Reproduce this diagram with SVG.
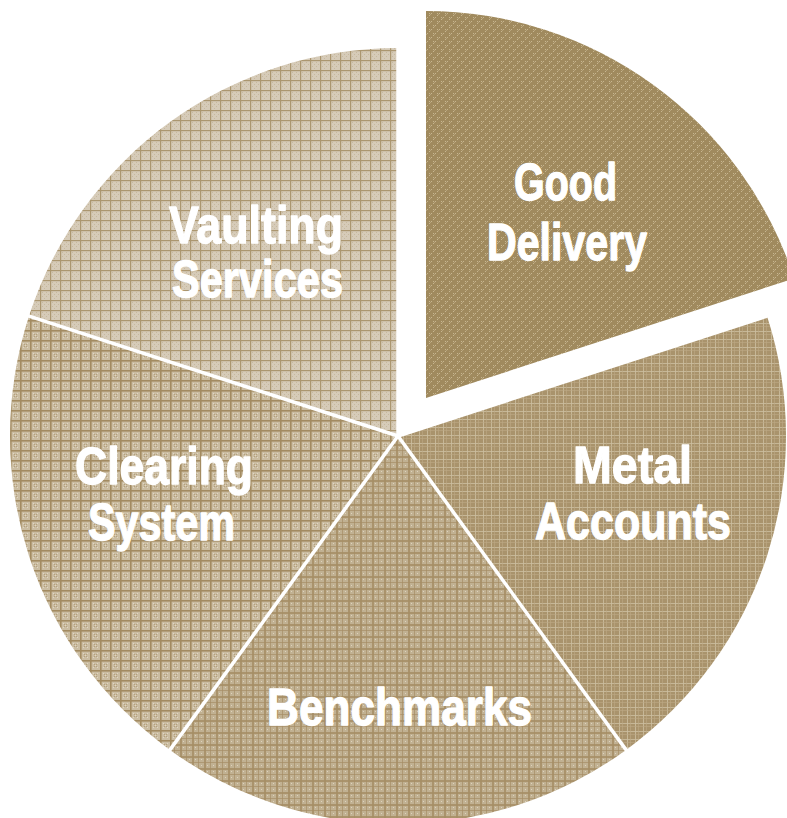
<svg xmlns="http://www.w3.org/2000/svg" width="787" height="818" viewBox="0 0 787 818">
<style>
.lbl{font-family:"Liberation Sans","Arial",sans-serif;font-weight:bold;font-size:52px;fill:#ffffff;stroke:#ffffff;stroke-width:1.3;stroke-linejoin:round;}
.sep{stroke:#ffffff;stroke-width:3.5;fill:none;}
</style>
<defs>
<pattern id="pVault" patternUnits="userSpaceOnUse" width="10" height="10">
<rect width="10" height="10" fill="#d6cbb8"/>
<rect x="2" y="2" width="1" height="1" fill="#c6b89e"/><rect x="4" y="4" width="1" height="1" fill="#c6b89e"/><rect x="6" y="6" width="1" height="1" fill="#c6b89e"/><rect x="6" y="2" width="1" height="1" fill="#c6b89e"/><rect x="2" y="6" width="1" height="1" fill="#c6b89e"/><rect x="8" y="4" width="1" height="1" fill="#c6b89e"/><rect x="4" y="8" width="1" height="1" fill="#c6b89e"/>
<rect x="0" y="0" width="10" height="1.2" fill="#ab966f"/>
<rect x="0" y="0" width="1.2" height="10" fill="#ab966f"/>
</pattern>
<pattern id="pClear" patternUnits="userSpaceOnUse" width="10" height="10">
<rect width="10" height="10" fill="#cbbda2"/>
<rect x="3" y="3" width="1" height="1" fill="#e0d6c4"/><rect x="5" y="5" width="1" height="1" fill="#e0d6c4"/><rect x="7" y="3" width="1" height="1" fill="#e0d6c4"/><rect x="3" y="7" width="1" height="1" fill="#e0d6c4"/><rect x="7" y="7" width="1" height="1" fill="#e0d6c4"/>
<rect x="4" y="4" width="1" height="1" fill="#b4a07c"/><rect x="6" y="6" width="1" height="1" fill="#b4a07c"/><rect x="4" y="6" width="1" height="1" fill="#b4a07c"/><rect x="6" y="4" width="1" height="1" fill="#b4a07c"/>
<rect x="0" y="0" width="10" height="1.6" fill="#a38b61"/>
<rect x="0" y="0" width="1.6" height="10" fill="#a38b61"/>
</pattern>
<pattern id="pBench" patternUnits="userSpaceOnUse" width="12" height="12">
<rect width="12" height="12" fill="#c1b192"/>
<rect x="0" y="0" width="2" height="12" fill="#a68e65" opacity="0.85"/>
<rect x="6" y="0" width="1" height="12" fill="#a68e65" opacity="0.7"/>
<rect x="0" y="0" width="12" height="2" fill="#a68e65" opacity="0.85"/>
<rect x="0" y="6" width="12" height="1" fill="#a68e65" opacity="0.7"/>
<rect x="3" y="3" width="1" height="1" fill="#ddd2bd"/><rect x="9" y="9" width="1" height="1" fill="#ddd2bd"/><rect x="9" y="3" width="1" height="1" fill="#ddd2bd"/><rect x="3" y="9" width="1" height="1" fill="#ddd2bd"/>
</pattern>
<pattern id="pMetal" patternUnits="userSpaceOnUse" width="8" height="8">
<rect width="8" height="8" fill="#a9936c"/>
<rect x="3" y="0" width="1" height="8" fill="#cbbd9f" opacity="0.85"/>
<rect x="0" y="3" width="8" height="1" fill="#cbbd9f" opacity="0.85"/>
<rect x="6" y="0" width="1" height="8" fill="#bca985" opacity="0.6"/>
<rect x="0" y="6" width="8" height="1" fill="#bca985" opacity="0.6"/>
</pattern>
<pattern id="pGood" patternUnits="userSpaceOnUse" width="8" height="8">
<rect width="8" height="8" fill="#a08a5e"/>
<rect x="1" y="1" width="1" height="1" fill="#c7b690"/><rect x="3" y="1" width="1" height="1" fill="#c7b690"/><rect x="1" y="3" width="1" height="1" fill="#c7b690"/><rect x="5" y="5" width="1" height="1" fill="#c7b690"/><rect x="7" y="5" width="1" height="1" fill="#c7b690"/><rect x="5" y="7" width="1" height="1" fill="#c7b690"/><rect x="2" y="2" width="1" height="1" fill="#b8a47c"/><rect x="6" y="6" width="1" height="1" fill="#b8a47c"/>
</pattern>
</defs>
<rect width="787" height="818" fill="#ffffff"/>
<g id="vaulting-services">
<path d="M398,436 L29.0,316.1 A388,388 0 0 1 398,48 Z" fill="url(#pVault)"/>
<text class="lbl" x="169" y="243" textLength="174" lengthAdjust="spacingAndGlyphs">Vaulting</text>
<text class="lbl" x="172" y="297" textLength="171" lengthAdjust="spacingAndGlyphs">Services</text>
</g>
<g id="clearing-system">
<path d="M398,436 L169.9,749.9 A388,388 0 0 1 29.0,316.1 Z" fill="url(#pClear)"/>
<text class="lbl" x="75" y="484" textLength="178" lengthAdjust="spacingAndGlyphs">Clearing</text>
<text class="lbl" x="88" y="540" textLength="147" lengthAdjust="spacingAndGlyphs">System</text>
</g>
<g id="benchmarks">
<path d="M398,436 L626.1,749.9 A388,388 0 0 1 169.9,749.9 Z" fill="url(#pBench)"/>
<text class="lbl" x="267" y="725" textLength="265" lengthAdjust="spacingAndGlyphs">Benchmarks</text>
</g>
<g id="metal-accounts">
<path d="M398,436 L767.0,316.1 A388,388 0 0 1 626.1,749.9 Z" fill="url(#pMetal)"/>
<text class="lbl" x="573" y="483" textLength="119" lengthAdjust="spacingAndGlyphs">Metal</text>
<text class="lbl" x="535" y="539" textLength="196" lengthAdjust="spacingAndGlyphs">Accounts</text>
</g>
<g id="good-delivery">
<path d="M426,398 L426,11 A387,387 0 0 1 794.1,278.4 Z" fill="url(#pGood)"/>
<text class="lbl" x="514" y="200" textLength="103" lengthAdjust="spacingAndGlyphs">Good</text>
<text class="lbl" x="487" y="260" textLength="160" lengthAdjust="spacingAndGlyphs">Delivery</text>
</g>
<g id="connectors">
<line class="sep" x1="398" y1="436" x2="398" y2="40"/>
<line class="sep" x1="398" y1="436" x2="21.4" y2="313.6"/>
<line class="sep" x1="398" y1="436" x2="165.2" y2="756.4"/>
<line class="sep" x1="398" y1="436" x2="630.8" y2="756.4"/>
<line class="sep" x1="398" y1="436" x2="774.6" y2="313.6"/>
</g>
</svg>
